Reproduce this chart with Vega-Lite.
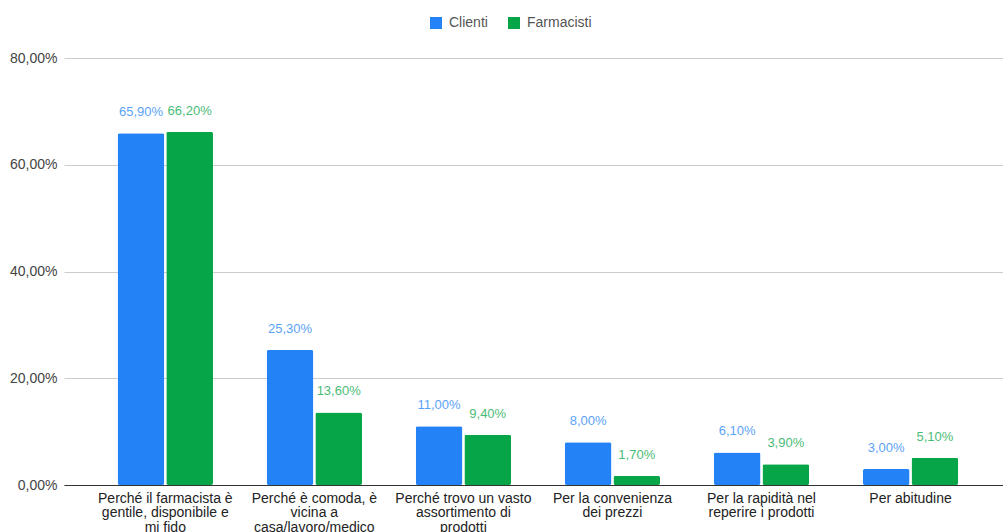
{
  "$schema": "https://vega.github.io/schema/vega-lite/v6.json",
  "width": 939,
  "height": 427,
  "autosize": {"type": "none"},
  "padding": {"left": 64, "top": 58, "right": 0, "bottom": 47},
  "background": "white",
  "config": {
    "locale": {"number": {"decimal": ",", "thousands": ".", "grouping": [3], "currency": ["€", ""]}},
    "font": "Liberation Sans",
    "view": {"stroke": null}
  },
  "data": {
    "values": [
      {"motivo": "Perché il farmacista è|gentile, disponibile e|mi fido", "gruppo": "Clienti", "valore": 0.659},
      {"motivo": "Perché il farmacista è|gentile, disponibile e|mi fido", "gruppo": "Farmacisti", "valore": 0.662},
      {"motivo": "Perché è comoda, è|vicina a|casa/lavoro/medico", "gruppo": "Clienti", "valore": 0.253},
      {"motivo": "Perché è comoda, è|vicina a|casa/lavoro/medico", "gruppo": "Farmacisti", "valore": 0.136},
      {"motivo": "Perché trovo un vasto|assortimento di|prodotti", "gruppo": "Clienti", "valore": 0.11},
      {"motivo": "Perché trovo un vasto|assortimento di|prodotti", "gruppo": "Farmacisti", "valore": 0.094},
      {"motivo": "Per la convenienza|dei prezzi", "gruppo": "Clienti", "valore": 0.08},
      {"motivo": "Per la convenienza|dei prezzi", "gruppo": "Farmacisti", "valore": 0.017},
      {"motivo": "Per la rapidità nel|reperire i prodotti", "gruppo": "Clienti", "valore": 0.061},
      {"motivo": "Per la rapidità nel|reperire i prodotti", "gruppo": "Farmacisti", "valore": 0.039},
      {"motivo": "Per abitudine", "gruppo": "Clienti", "valore": 0.03},
      {"motivo": "Per abitudine", "gruppo": "Farmacisti", "valore": 0.051}
    ]
  },
  "encoding": {
    "x": {
      "field": "motivo", "type": "nominal", "sort": null,
      "scale": {"paddingInner": 0.36, "paddingOuter": 0.33, "align": 0.545},
      "axis": {
        "title": null, "labelAngle": 0, "ticks": false,
        "domainColor": "#333333", "labelColor": "#222222", "labelFontSize": 14,
        "labelExpr": "split(datum.label, '|')", "labelLineHeight": 14.5,
        "labelPadding": 6, "labelBaseline": "top", "labelLimit": 200
      }
    },
    "xOffset": {"field": "gruppo", "type": "nominal", "scale": {"paddingInner": 0.04}},
    "y": {
      "field": "valore", "type": "quantitative",
      "scale": {"domain": [0, 0.8]},
      "axis": {
        "title": null, "values": [0, 0.2, 0.4, 0.6, 0.8], "format": ".2%",
        "domain": false, "ticks": false, "labelPadding": 7,
        "gridColor": "#cccccc", "labelColor": "#444444", "labelFontSize": 14
      }
    }
  },
  "layer": [
    {
      "mark": {"type": "bar", "cornerRadius": 2},
      "encoding": {
        "color": {
          "field": "gruppo", "type": "nominal",
          "scale": {"domain": ["Clienti", "Farmacisti"], "range": ["#2383f6", "#06a648"]},
          "legend": {
            "title": null, "orient": "none", "direction": "horizontal",
            "legendX": 365, "legendY": -42, "symbolType": "square",
            "symbolSize": 144, "labelFontSize": 14, "labelColor": "#555555",
            "columnPadding": 19, "labelOffset": 6, "symbolStrokeWidth": 0
          }
        }
      }
    },
    {
      "mark": {"type": "text", "baseline": "bottom", "dy": -14, "fontSize": 13},
      "encoding": {
        "text": {"field": "valore", "type": "quantitative", "format": ".2%"},
        "color": {
          "field": "gruppo", "type": "nominal",
          "scale": {"domain": ["Clienti", "Farmacisti"], "range": ["#2383f6", "#06a648"]},
          "legend": null
        },
        "opacity": {"value": 0.75}
      }
    }
  ]
}
